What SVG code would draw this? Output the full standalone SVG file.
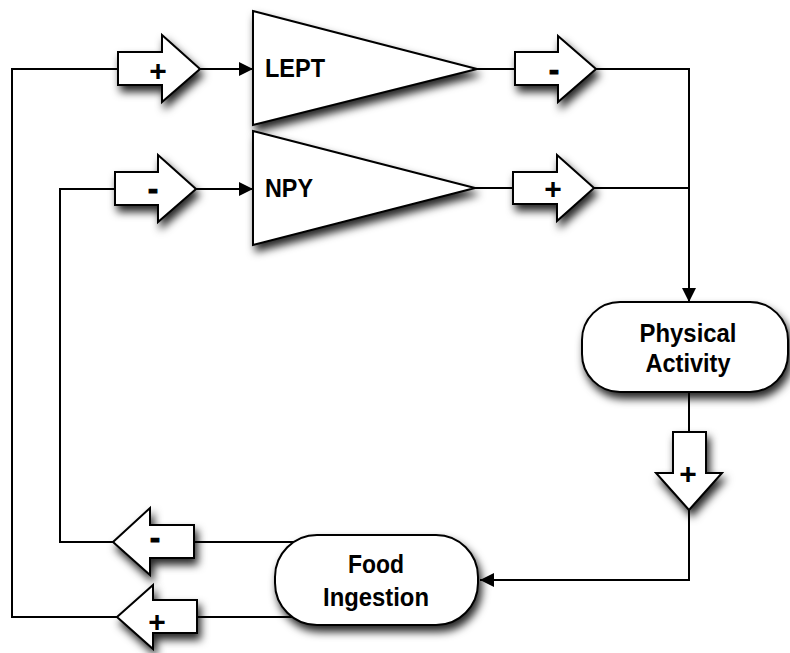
<svg xmlns="http://www.w3.org/2000/svg" width="790" height="653" viewBox="0 0 790 653">
<style>
.shape{fill:#fff;stroke:#000;stroke-width:2;stroke-linejoin:miter;filter:url(#sh)}
.conn{fill:none;stroke:#000;stroke-width:2}
.lbl{font-family:"Liberation Sans",Arial,sans-serif;font-weight:bold;font-size:26px;fill:#000}
.sign{font-family:"Liberation Sans",Arial,sans-serif;font-weight:bold;font-size:30px;fill:#000;text-anchor:middle}
.minus{stroke:#000;stroke-width:1.2}
.mid{text-anchor:middle}
</style>
<defs>
<filter id="sh" x="-20%" y="-20%" width="150%" height="160%">
<feDropShadow dx="3" dy="6" stdDeviation="4.5" flood-color="#000" flood-opacity="0.85"/>
</filter>
<marker id="ah" viewBox="0 0 10 10" markerUnits="userSpaceOnUse" markerWidth="20" markerHeight="14" refX="10" refY="5" orient="auto">
<path d="M0,0 L10,5 L0,10 Z" fill="#000"/>
</marker>
</defs>
<rect width="790" height="653" fill="#fff"/>
<g id="connectors">
<path class="conn" d="M118,69 H12 V617 H117"/>
<path class="conn" d="M200,69 H253" marker-end="url(#ah)"/>
<path class="conn" d="M115,189 H60 V542 H113"/>
<path class="conn" d="M196,189 H253" marker-end="url(#ah)"/>
<path class="conn" d="M477,69 H515"/>
<path class="conn" d="M475,188 H513"/>
<path class="conn" d="M596,69 H689 V302" marker-end="url(#ah)"/>
<path class="conn" d="M594,188 H689"/>
<path class="conn" d="M689,392 V432"/>
<path class="conn" d="M689,510 V580 H480" marker-end="url(#ah)"/>
<path class="conn" d="M300,542 H194"/>
<path class="conn" d="M300,617 H197"/>
</g>
<g id="lept">
<path class="shape" d="M253,11 L477,69 L253,125 Z"/>
<text class="lbl" x="265" y="77" font-size="28" textLength="60" lengthAdjust="spacingAndGlyphs">LEPT</text>
</g>
<g id="npy">
<path class="shape" d="M253,131 L475,188 L253,245 Z"/>
<text class="lbl" x="265" y="197" font-size="27" textLength="48" lengthAdjust="spacingAndGlyphs">NPY</text>
</g>
<g id="sign-in-lept">
<path class="shape" d="M118,52 H162 V35 L200,69 L162,102 V85 H118 Z"/>
<text class="sign" x="158" y="80.5">+</text>
</g>
<g id="sign-in-npy">
<path class="shape" d="M115,172 H158 V155 L196,189 L158,222 V205 H115 Z"/>
<text class="sign minus" x="153" y="199">-</text>
</g>
<g id="sign-out-lept">
<path class="shape" d="M515,52 H558 V36 L596,69 L558,102 V85 H515 Z"/>
<text class="sign minus" x="554" y="79.5">-</text>
</g>
<g id="sign-out-npy">
<path class="shape" d="M513,172 H557 V155 L594,188 L557,221 V204 H513 Z"/>
<text class="sign" x="553" y="198.5">+</text>
</g>
<g id="physical-activity">
<rect class="shape" x="582" y="302" width="206" height="90" rx="38" ry="38"/>
<text class="lbl mid" x="688" y="342" textLength="97" lengthAdjust="spacingAndGlyphs">Physical</text>
<text class="lbl mid" x="688" y="372" textLength="85" lengthAdjust="spacingAndGlyphs">Activity</text>
</g>
<g id="sign-pa">
<path class="shape" d="M673,432 V473 H656 L689,510 L722,473 H706 V432 Z"/>
<text class="sign" x="688" y="483.5">+</text>
</g>
<g id="food-ingestion">
<rect class="shape" x="275" y="535" width="203" height="90" rx="42" ry="42"/>
<text class="lbl mid" x="376" y="573" textLength="56" lengthAdjust="spacingAndGlyphs">Food</text>
<text class="lbl mid" x="376" y="606" textLength="106" lengthAdjust="spacingAndGlyphs">Ingestion</text>
</g>
<g id="sign-food-npy">
<path class="shape" d="M113,542 L150,508 V525 H194 V558 H150 V575 Z"/>
<text class="sign minus" x="155" y="547.5">-</text>
</g>
<g id="sign-food-lept">
<path class="shape" d="M117,617 L153,585 V600 H197 V633 H153 V649 Z"/>
<text class="sign" x="157" y="631.5">+</text>
</g>
</svg>
